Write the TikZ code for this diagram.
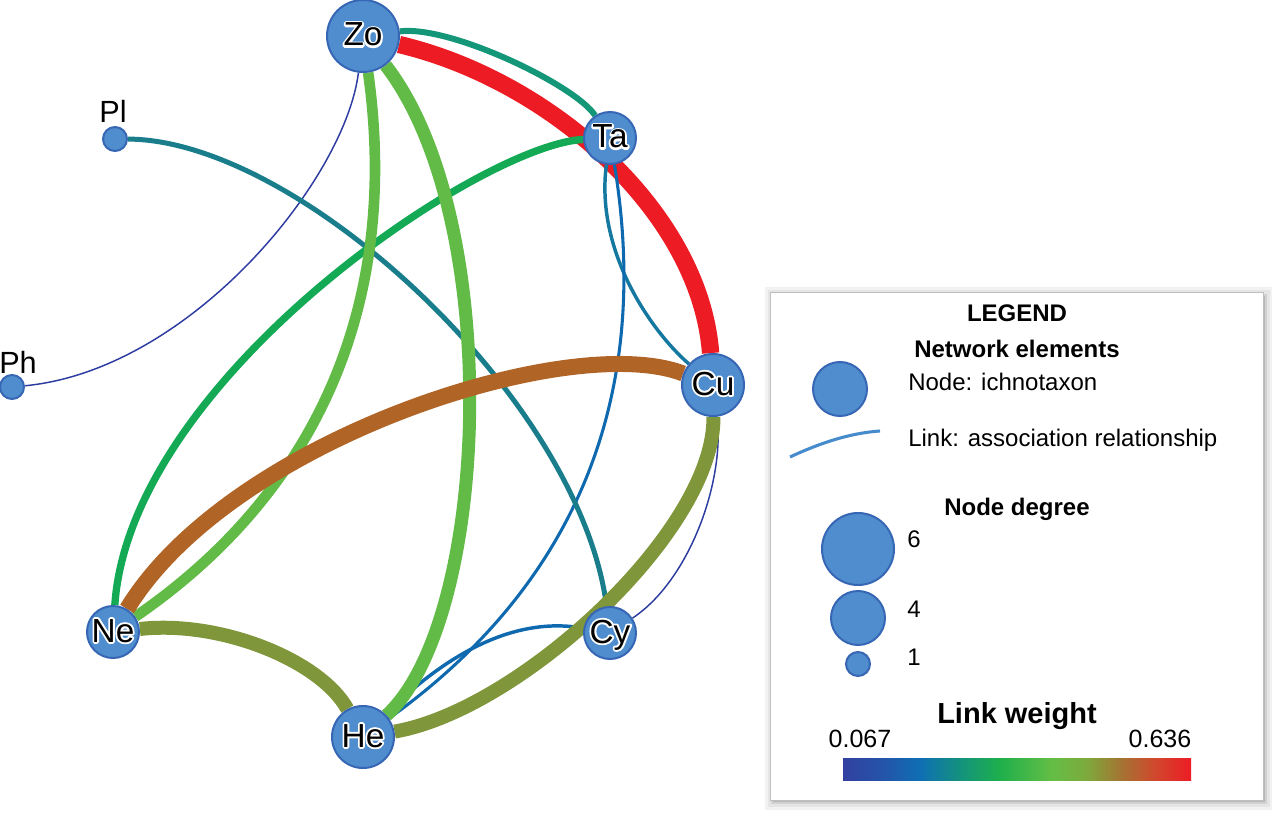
\documentclass[tikz,border=0pt]{standalone}
\usepackage{fontspec}
\setmainfont{Liberation Sans}
\usetikzlibrary{backgrounds}
\newbox\halobx
\newcommand\halolabel[1]{\setbox\halobx=\hbox{#1}%
  \rlap{\textcolor{white}{\special{pdf:literal direct 2 Tr 2.8 w 1 j}\copy\halobx\special{pdf:literal direct 0 Tr 1 w 0 j}}}\box\halobx}
\newcommand\nlab[1]{\smash{\makebox[0pt]{\raisebox{-0.3em}{\halolabel{#1}}}}}
\definecolor{nodefill}{RGB}{79,141,206}
\definecolor{nodeedge}{RGB}{55,102,180}
\definecolor{cRed}{RGB}{237,28,36}
\definecolor{cBrown}{RGB}{176,100,38}
\definecolor{cOlive}{RGB}{128,150,58}
\definecolor{cLgreen}{RGB}{98,187,70}
\definecolor{cGreen}{RGB}{20,170,85}
\definecolor{cTealG}{RGB}{20,150,120}
\definecolor{cTeal}{RGB}{25,125,140}
\definecolor{cTealB}{RGB}{20,120,160}
\definecolor{cBlue}{RGB}{15,105,175}
\definecolor{cDblue}{RGB}{45,60,160}
\definecolor{legline}{RGB}{70,140,205}
\definecolor{w0}{RGB}{50,65,160}
\definecolor{w1}{RGB}{35,85,170}
\definecolor{w2}{RGB}{15,110,180}
\definecolor{w3}{RGB}{20,150,120}
\definecolor{w4}{RGB}{30,175,75}
\definecolor{w5}{RGB}{100,190,70}
\definecolor{w6}{RGB}{125,170,60}
\definecolor{w7}{RGB}{165,115,50}
\definecolor{w8}{RGB}{210,70,45}
\definecolor{w9}{RGB}{237,28,36}
\pgfdeclarehorizontalshading{linkweight}{100bp}{color(0bp)=(w0); color(25bp)=(w0); color(31bp)=(w1); color(36bp)=(w2); color(42.5bp)=(w3); color(47.5bp)=(w4); color(55bp)=(w5); color(60bp)=(w6); color(65bp)=(w7); color(70bp)=(w8); color(75bp)=(w9); color(100bp)=(w9)}
\begin{document}
\begin{tikzpicture}[x=0.75pt,y=-0.75pt,
  taxon/.style={circle,fill=nodefill,draw=nodeedge,line width=1.5pt,inner sep=0pt,
    font=\fontsize{25pt}{25pt}\selectfont},
  big/.style={taxon,minimum size=54pt},
  mid/.style={taxon,minimum size=46.5pt},
  small/.style={taxon,minimum size=39pt},
  tiny/.style={taxon,minimum size=18pt},
  link/.style={line cap=butt},
  sideLabel/.style={inner sep=0pt,anchor=base,font=\fontsize{23pt}{23pt}\selectfont},
  legtext/.style={inner sep=0pt,anchor=base west,font=\fontsize{18pt}{18pt}\selectfont},
  leghead/.style={inner sep=0pt,anchor=base,font=\bfseries\fontsize{18pt}{18pt}\selectfont},
  legcircle/.style={fill=nodefill,draw=nodeedge,line width=1.5pt}]
\useasboundingbox (0,0) rectangle (1280,816);

% nodes
\node[big]   (Zo) at (363,36)  {\nlab{Zo}};
\node[small] (Ta) at (610,138) {\nlab{Ta}};
\node[mid]   (Cu) at (713,385) {\nlab{Cu}};
\node[small] (Ne) at (113,632) {\nlab{Ne}};
\node[mid]   (He) at (363,737) {\nlab{He}};
\node[small] (Cy) at (610,633) {\nlab{Cy}};
\node[tiny]  (Pl) at (115,139) {};
\node[tiny]  (Ph) at (12,387)  {};
\node[sideLabel] (PlLabel) at (113,123) {Pl};
\node[sideLabel,anchor=base west] (PhLabel) at (-1,373) {Ph};

% links
\begin{scope}[on background layer]
\draw[link,cRed,line width=13pt] (Zo) .. controls (550,80) and (700,212) .. (Cu);
\draw[link,cTealG,line width=4.5pt] (Zo) .. controls (450,25) and (575,85) .. (Ta);
\draw[link,cTealB,line width=2.6pt] (Ta) .. controls (595,250) and (650,330) .. (Cu);
\draw[link,cBlue,line width=2.3pt] (Ta) .. controls (645,350) and (610,560) .. (He);
\draw[link,cDblue,line width=1.1pt] (Cy) .. controls (690,580) and (725,480) .. (Cu);
\draw[link,cDblue,line width=1.1pt] (Ph) .. controls (190,370) and (345,180) .. (Zo);
\draw[link,cTeal,line width=3.75pt] (Pl) .. controls (300,140) and (580,400) .. (Cy);
\draw[link,cGreen,line width=5.5pt] (Ta) .. controls (480,145) and (130,380) .. (Ne);
\draw[link,cBlue,line width=2.6pt] (Cy) .. controls (510,615) and (440,660) .. (He);
\draw[link,cLgreen,line width=8pt] (Zo) .. controls (400,300) and (320,490) .. (Ne);
\draw[link,cLgreen,line width=9.75pt] (Zo) .. controls (505,220) and (490,620) .. (He);
\draw[link,cBrown,line width=12pt] (Ne) .. controls (230,440) and (570,330) .. (Cu);
\draw[link,cOlive,line width=10.5pt] (Ne) .. controls (220,620) and (320,660) .. (He);
\draw[link,cOlive,line width=10.5pt] (He) .. controls (520,710) and (715,530) .. (Cu);
\end{scope}

% legend box with shadow
\fill[black!5]  (765,287) rectangle (1272,810);
\fill[black!10] (768,290) rectangle (1270,807);
\fill[black!18] (771,294) rectangle (1267,804);
\fill[black!28] (773,296) rectangle (1265,802);
\filldraw[fill=white,draw=black!25,line width=0.6pt] (770,292) rectangle (1263,800);

\node[leghead] (legT) at (1017,321) {LEGEND};
\node[leghead] (netT) at (1017,357) {Network elements};
\draw[legcircle] (840,389) circle[radius=27];
\node[legtext] (nodeT) at (908,390) {Node: ichnotaxon};
\draw[legline,line width=2.3pt] (790,457) .. controls (820,443) and (850,433) .. (880,431);
\node[legtext] (linkT) at (908,446) {Link: association relationship};
\node[leghead] (degT) at (1017,515) {Node degree};
\draw[legcircle] (858,549) circle[radius=36];
\draw[legcircle] (858,618) circle[radius=27];
\draw[legcircle] (858,664) circle[radius=12];
\node[legtext] (d6) at (907,547) {6};
\node[legtext] (d4) at (907,617) {4};
\node[legtext] (d1) at (907,665) {1};
\node[leghead,font=\bfseries\fontsize{21.75pt}{21.75pt}\selectfont] (lwT) at (1017,723) {Link weight};
\node[inner sep=0pt,anchor=base,font=\fontsize{18.75pt}{18.75pt}\selectfont] (lo) at (860,747) {0.067};
\node[inner sep=0pt,anchor=base,font=\fontsize{18.75pt}{18.75pt}\selectfont] (hi) at (1160,747) {0.636};
\shade[shading=linkweight] (843,758) rectangle (1191,780);
\end{tikzpicture}
\end{document}
